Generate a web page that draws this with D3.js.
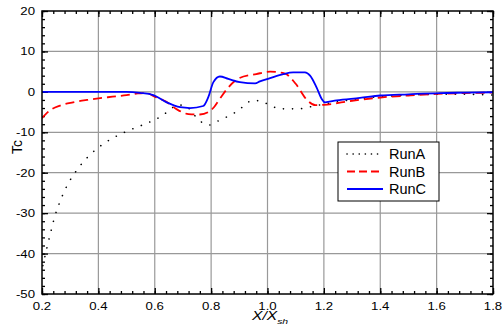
<!DOCTYPE html>
<html>
<head>
<meta charset="utf-8">
<script src="https://cdn.jsdelivr.net/npm/d3@7"></script>
<style>
  body { margin: 0; background: #fff; }
  text { font-family: "Liberation Sans", Arial, sans-serif; fill: #000; }
</style>
</head>
<body>
<div id="chart"></div>
<script>
// data
const runAx = [0.203, 0.218, 0.231, 0.245, 0.264, 0.288, 0.321, 0.367, 0.428, 0.493, 0.556, 0.619, 0.652, 0.68, 0.711, 0.76, 0.793, 0.825, 0.888, 0.95, 0.979, 1.012, 1.044, 1.107, 1.172, 1.204, 1.3, 1.4, 1.5, 1.6, 1.7, 1.8];
const runAy = [-43, -38.4, -34.7, -30.9, -27.1, -23.3, -19.6, -15.8, -12.4, -10, -8.2, -6.2, -4.6, -3.2, -3.6, -7.2, -8.2, -7.2, -5, -2.1, -2.4, -3.4, -4.2, -4.2, -3.4, -3.0, -1.9, -1.2, -0.8, -0.6, -0.6, -0.8];

const runBx = [0.2, 0.228, 0.264, 0.31, 0.36, 0.4, 0.45, 0.5, 0.54, 0.57, 0.6, 0.64, 0.68, 0.72, 0.76, 0.79, 0.81, 0.83, 0.86, 0.9, 0.96, 1.01, 1.06, 1.1, 1.14, 1.17, 1.2, 1.3, 1.4, 1.5, 1.6, 1.7, 1.8];
const runBy = [-6.5, -4.6, -3.4, -2.6, -2.0, -1.6, -1.2, -0.8, -0.4, -0.3, -1.2, -2.4, -4.4, -5.5, -5.6, -5.0, -3.8, -1.8, 1.0, 3.4, 4.4, 5.0, 4.6, 2.0, -2.0, -3.3, -3.2, -2.2, -1.4, -0.9, -0.5, -0.3, -0.2];

const runCx = [0.2, 0.3, 0.4, 0.5, 0.548, 0.595, 0.642, 0.69, 0.725, 0.772, 0.79, 0.808, 0.831, 0.861, 0.902, 0.956, 0.973, 1.009, 1.056, 1.091, 1.133, 1.151, 1.174, 1.192, 1.204, 1.245, 1.328, 1.4, 1.5, 1.612, 1.7, 1.8];
const runCy = [0, 0, 0, 0, -0.25, -0.8, -2.6, -3.8, -4.0, -3.5, -1.3, 2.4, 3.8, 3.2, 2.4, 2.1, 2.6, 3.4, 4.4, 4.8, 4.8, 4.0, 1.1, -1.7, -2.6, -2.1, -1.5, -0.9, -0.6, -0.3, -0.2, -0.1];

const xTicks = [0.2, 0.4, 0.6, 0.8, 1.0, 1.2, 1.4, 1.6, 1.8];
const yTicks = [20, 10, 0, -10, -20, -30, -40, -50];
const seriesNames = ["RunA", "RunB", "RunC"];

const w = 502, h = 326;
const padL = 42, padR = 493, padT = 11, padB = 294;

const svg = d3.select("#chart").append("svg")
  .attr("width", w)
  .attr("height", h);

const x = d3.scaleLinear().domain([0.2, 1.8]).range([padL, padR]);
const y = d3.scaleLinear().domain([-50, 20]).range([padB, padT]);

const xMinor = d3.range(0.2, 1.8001, 0.04).map(d => +d.toFixed(2));
const yMinor = d3.range(-50, 20.001, 2);

// gridlines
svg.append("g").selectAll("line").data(xTicks.slice(1, -1)).enter().append("line")
  .attr("x1", d => x(d)).attr("x2", d => x(d))
  .attr("y1", padT).attr("y2", padB)
  .attr("stroke", "#999").attr("stroke-width", 1.2);
svg.append("g").selectAll("line").data(yTicks.slice(1, -1)).enter().append("line")
  .attr("y1", d => y(d)).attr("y2", d => y(d))
  .attr("x1", padL).attr("x2", padR)
  .attr("stroke", "#999").attr("stroke-width", 1.2);

// inward ticks on all four sides
function ticks(axis, vals, size, tr) {
  const g = svg.append("g").attr("transform", tr)
    .call(axis.tickValues(vals).tickSize(-size).tickFormat(""));
  g.select(".domain").remove();
  g.selectAll("line").attr("stroke", "#000").attr("stroke-width", 1.3);
  return g;
}
ticks(d3.axisBottom(x), xMinor, 3, `translate(0,${padB})`);
ticks(d3.axisBottom(x), xTicks, 6, `translate(0,${padB})`);
ticks(d3.axisTop(x), xMinor, 3, `translate(0,${padT})`);
ticks(d3.axisTop(x), xTicks, 6, `translate(0,${padT})`);
ticks(d3.axisLeft(y), yMinor, 3, `translate(${padL},0)`);
ticks(d3.axisLeft(y), yTicks, 6, `translate(${padL},0)`);
ticks(d3.axisRight(y), yMinor, 3, `translate(${padR},0)`);
ticks(d3.axisRight(y), yTicks, 6, `translate(${padR},0)`);

// tick labels (the original text is a little wide)
svg.append("g").selectAll("text").data(yTicks).enter().append("text")
  .attr("transform", d => `translate(35,${y(d) + 4}) scale(1.2,1)`)
  .attr("text-anchor", "end")
  .style("font-size", "11px")
  .text(d => d);
svg.append("g").selectAll("text").data(xTicks).enter().append("text")
  .attr("transform", d => `translate(${x(d)},309.5) scale(1.2,1)`)
  .attr("text-anchor", "middle")
  .style("font-size", "11px")
  .text(d => d3.format(".1f")(d));

// curves
svg.append("clipPath").attr("id", "clip").append("rect")
  .attr("x", padL).attr("y", padT).attr("width", padR - padL).attr("height", padB - padT);

const line = d3.line().x(d => x(d[0])).y(d => y(d[1])).curve(d3.curveMonotoneX);
const plot = svg.append("g").attr("clip-path", "url(#clip)");

plot.append("path").datum(d3.zip(runAx, runAy))
  .attr("d", line).attr("fill", "none")
  .attr("stroke", "#000").attr("stroke-width", 1.6)
  .attr("stroke-linecap", "round")
  .attr("stroke-dasharray", "0.1,9");
plot.append("path").datum(d3.zip(runBx, runBy))
  .attr("d", line).attr("fill", "none")
  .attr("stroke", "#ff0000").attr("stroke-width", 1.8)
  .attr("stroke-dasharray", "9,5");
plot.append("path").datum(d3.zip(runCx, runCy))
  .attr("d", line).attr("fill", "none")
  .attr("stroke", "#0000ff").attr("stroke-width", 1.8);

// frame
svg.append("rect")
  .attr("x", padL).attr("y", padT).attr("width", padR - padL).attr("height", padB - padT)
  .attr("fill", "none").attr("stroke", "#000").attr("stroke-width", 1.5);

// legend
const legend = svg.append("g");
legend.append("rect")
  .attr("x", 338).attr("y", 142).attr("width", 101).attr("height", 59)
  .attr("fill", "#fff").attr("stroke", "#000").attr("stroke-width", 1);
const styles = [
  { color: "#000", dash: "0.1,6", width: 1.6 },
  { color: "#ff0000", dash: "8,4", width: 1.8 },
  { color: "#0000ff", dash: null, width: 1.8 }
];
seriesNames.forEach((name, i) => {
  const ly = 154 + i * 17.5;
  legend.append("line")
    .attr("x1", 347).attr("x2", 383).attr("y1", ly).attr("y2", ly)
    .attr("stroke", styles[i].color).attr("stroke-width", styles[i].width)
    .attr("stroke-linecap", i === 0 ? "round" : "butt")
    .attr("stroke-dasharray", styles[i].dash);
  legend.append("text")
    .attr("x", 389).attr("y", ly + 5)
    .style("font-size", "14.5px")
    .text(name);
});

// axis titles
svg.append("text")
  .attr("transform", "translate(21.5,147) rotate(-90)")
  .attr("text-anchor", "middle")
  .style("font-size", "14px")
  .text("Tc");

const xt = svg.append("text")
  .attr("transform", "translate(252,320) scale(1.3,1)")
  .style("font-size", "12px")
  .style("font-style", "italic");
xt.append("tspan").text("X/X");
xt.append("tspan").attr("dy", 4).style("font-size", "8px").text("sh");
</script>
</body>
</html>
